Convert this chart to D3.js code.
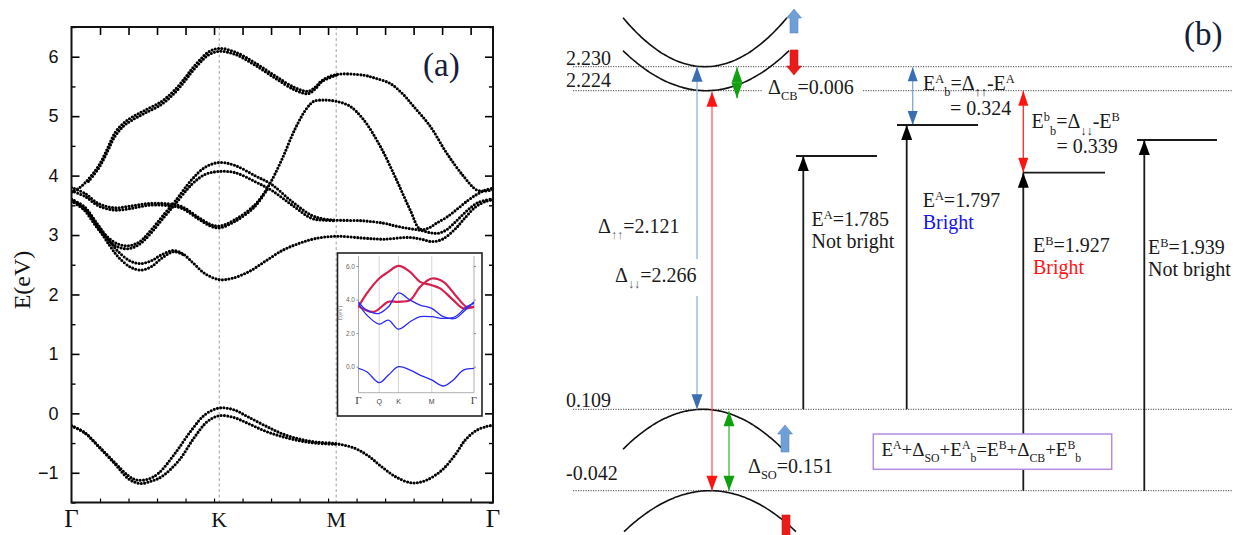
<!DOCTYPE html>
<html><head><meta charset="utf-8">
<script src="https://cdn.jsdelivr.net/npm/d3@7"></script>
<style>body{margin:0;background:#fff}svg{display:block}</style>
</head><body><svg id="c" width="1241" height="535"></svg>
<script>
// ---------------- DATA: panel (a) band structure (k as fraction of path, E in eV) ----------------
const kLabels = ["Γ", "K", "M", "Γ"];
const kPos = [0, 0.3505, 0.628, 1];
const yTickValues = [-1, 0, 1, 2, 3, 4, 5, 6];
const kPathLength = 2.957; // top-axis tick units (ticks every 0.2)

const vbUp = [[0,-0.21],[0.032,-0.33],[0.064,-0.55],[0.103,-0.83],[0.135,-1.05],[0.155,-1.12],[0.18,-1.11],[0.206,-1.01],[0.246,-0.67],[0.285,-0.28],[0.317,-0.02],[0.3505,0.09],[0.385,0.06],[0.419,-0.06],[0.46,-0.21],[0.499,-0.34],[0.54,-0.43],[0.578,-0.48],[0.628,-0.51],[0.673,-0.59],[0.705,-0.72],[0.736,-0.9],[0.77,-1.07],[0.807,-1.17],[0.84,-1.13],[0.878,-0.96],[0.91,-0.7],[0.934,-0.45],[0.96,-0.29],[0.985,-0.22],[1,-0.2]];
const vbDn = [[0,-0.21],[0.032,-0.33],[0.064,-0.56],[0.103,-0.85],[0.135,-1.1],[0.162,-1.18],[0.19,-1.14],[0.215,-1.06],[0.255,-0.79],[0.29,-0.42],[0.322,-0.14],[0.3505,-0.04],[0.385,-0.07],[0.419,-0.17],[0.46,-0.3],[0.499,-0.39],[0.54,-0.46],[0.578,-0.5],[0.628,-0.52]];

const cb1Up = [[0,3.6],[0.03,3.48],[0.06,3.2],[0.09,2.9],[0.111,2.72],[0.14,2.56],[0.165,2.52],[0.19,2.57],[0.214,2.67],[0.243,2.74],[0.265,2.68],[0.29,2.52],[0.317,2.35],[0.3505,2.25],[0.38,2.27],[0.42,2.38],[0.46,2.56],[0.5,2.74],[0.54,2.86],[0.578,2.94],[0.628,2.98],[0.69,2.95],[0.74,2.93],[0.8,2.96],[0.83,2.93],[0.855,2.89],[0.88,2.93],[0.91,3.1],[0.935,3.3],[0.96,3.48],[0.985,3.57],[1,3.59]];
const cb1Dn = [[0,3.57],[0.03,3.45],[0.06,3.15],[0.09,2.83],[0.111,2.63],[0.14,2.46],[0.165,2.41],[0.19,2.47],[0.214,2.61],[0.243,2.72],[0.265,2.67]];

const cb2Up = [[0,3.6],[0.03,3.45],[0.06,3.18],[0.085,2.97],[0.11,2.85],[0.135,2.82],[0.16,2.88],[0.182,3.03],[0.222,3.37],[0.246,3.57],[0.285,3.93],[0.317,4.14],[0.3505,4.22],[0.388,4.17],[0.435,4.0],[0.475,3.85],[0.522,3.57],[0.57,3.33],[0.6,3.27],[0.628,3.25],[0.69,3.24],[0.74,3.2],[0.77,3.15],[0.8,3.11],[0.827,3.08],[0.851,3.04],[0.87,3.03],[0.89,3.09],[0.915,3.25],[0.94,3.42],[0.965,3.55],[1,3.61]];
const cb2Dn = [[0,3.57],[0.03,3.42],[0.06,3.13],[0.085,2.93],[0.11,2.8],[0.135,2.77],[0.16,2.84],[0.182,2.98],[0.222,3.32],[0.246,3.52],[0.285,3.85],[0.317,4.02],[0.3505,4.07],[0.388,4.05],[0.435,3.9],[0.475,3.75],[0.522,3.51],[0.57,3.28],[0.6,3.25],[0.628,3.24]];

const cb3Up = [[0,3.8],[0.032,3.7],[0.064,3.53],[0.103,3.46],[0.143,3.49],[0.182,3.53],[0.222,3.53],[0.261,3.48],[0.301,3.3],[0.33,3.18],[0.3505,3.15],[0.388,3.26],[0.435,3.51],[0.467,3.82],[0.499,4.27],[0.53,4.78],[0.557,5.12],[0.575,5.25],[0.6,5.27],[0.628,5.25],[0.66,5.17],[0.692,4.95],[0.732,4.5],[0.771,3.93],[0.803,3.43],[0.827,3.1],[0.848,3.12],[0.866,3.2],[0.89,3.3],[0.914,3.43],[0.94,3.58],[0.961,3.68],[0.98,3.75],[1,3.79]];
const cb3Dn = [[0,3.74],[0.032,3.65],[0.064,3.49],[0.103,3.42],[0.143,3.45],[0.182,3.5],[0.222,3.5],[0.261,3.45],[0.301,3.27],[0.33,3.15],[0.3505,3.12],[0.388,3.23],[0.435,3.48],[0.467,3.8]];

const cb4Up = [[0,3.72],[0.02,3.8],[0.04,3.94],[0.064,4.16],[0.085,4.45],[0.103,4.72],[0.123,4.88],[0.143,4.98],[0.174,5.1],[0.214,5.25],[0.246,5.45],[0.27,5.65],[0.285,5.79],[0.305,5.95],[0.325,6.08],[0.3505,6.14],[0.388,6.08],[0.435,5.9],[0.483,5.68],[0.53,5.48],[0.562,5.42],[0.58,5.5],[0.594,5.6],[0.628,5.7],[0.692,5.69],[0.72,5.64],[0.756,5.55],[0.785,5.38],[0.811,5.17],[0.851,4.83],[0.89,4.38],[0.93,3.99],[0.961,3.76],[0.98,3.74],[1,3.76]];
const cb4Dn = [[0.04,3.9],[0.064,4.12],[0.085,4.4],[0.103,4.66],[0.123,4.83],[0.143,4.93],[0.174,5.05],[0.214,5.2],[0.246,5.4],[0.27,5.6],[0.285,5.74],[0.305,5.9],[0.325,6.03],[0.3505,6.09],[0.388,6.04],[0.435,5.86],[0.483,5.64],[0.53,5.44],[0.562,5.38],[0.58,5.47],[0.594,5.58],[0.628,5.69]];

// inset (k as fraction of inset path)
const insetKLabels = ["Γ", "Q", "K", "M", "Γ"];
const insetKPos = [0, 0.179, 0.346, 0.634, 1];
const insetYTicks = [0, 2, 4, 6];
const insetRed1 = [[0,3.57],[0.072,4.37],[0.179,5.26],[0.259,5.65],[0.346,6.01],[0.447,5.65],[0.533,5.06],[0.634,4.86],[0.706,4.67],[0.821,3.97],[0.908,3.48],[1,3.57]];
const insetRed2 = [[0,3.6],[0.13,3.27],[0.259,3.87],[0.346,3.87],[0.447,3.97],[0.533,4.76],[0.634,5.26],[0.735,5.06],[0.85,4.17],[0.936,3.57],[1,3.57]];
const insetBlue1 = [[0,3.87],[0.072,3.37],[0.179,3.18],[0.259,3.57],[0.346,4.4],[0.447,3.97],[0.533,3.67],[0.634,3.48],[0.735,2.98],[0.836,2.88],[0.908,3.27],[1,3.87]];
const insetBlue2 = [[0,3.77],[0.072,3.08],[0.179,2.54],[0.259,2.78],[0.346,2.24],[0.447,2.68],[0.533,2.98],[0.634,2.98],[0.735,2.88],[0.836,2.98],[0.936,3.57],[1,3.77]];
const insetBlueV = [[0,-0.1],[0.072,-0.3],[0.179,-0.95],[0.259,-0.5],[0.346,0.0],[0.447,-0.2],[0.533,-0.5],[0.634,-0.79],[0.735,-1.15],[0.821,-0.79],[0.908,-0.2],[1,-0.1]];

// ---------------- DATA: panel (b) energy diagram ----------------
const levelValues = [2.230, 2.224, 0.109, -0.042];
const levelLabels = ["2.230", "2.224", "0.109", "-0.042"];
const excitonSpecies = ["A", "A", "B", "B"];
const excitonEnergies = [1.785, 1.797, 1.927, 1.939];
const excitonFrom = [0.109, 0.109, -0.042, -0.042];
const excitonBright = ["Not bright", "Bright", "Bright", "Not bright"];
const bindingA = 0.324, bindingB = 0.339;
const deltaUpUp = 2.121, deltaDnDn = 2.266, deltaCB = 0.006, deltaSO = 0.151;

// ---------------- DRAW ----------------
const svg = d3.select("#c");
const serif = "'Liberation Serif','Times New Roman',serif";
const sans = "'Liberation Sans',Arial,sans-serif";

// ===== Panel (a) =====
const L = 71.5, R = 493, T = 27, B = 502.5;
const xa = d3.scaleLinear().domain([0, 1]).range([L, R]);
const xk = d3.scaleLinear().domain([0, kPathLength]).range([L, R]);
const ya = d3.scaleLinear().domain([-1.5, 6.5]).range([B, T]);
const ga = svg.append("g");

ga.append("clipPath").attr("id", "clipA").append("rect").attr("x", L).attr("y", T).attr("width", R - L).attr("height", B - T);

// K, M dashed lines
ga.selectAll("line.sym").data(kPos.slice(1, 3)).join("line")
  .attr("x1", d => xa(d)).attr("x2", d => xa(d)).attr("y1", T).attr("y2", B)
  .attr("stroke", "#999").attr("stroke-width", 0.9).attr("stroke-dasharray", "3,2.5");

// bands
const bandLine = d3.line().x(d => xa(d[0])).y(d => ya(d[1])).curve(d3.curveCatmullRom.alpha(0.5));
const bands = [vbUp, vbDn, cb1Up, cb1Dn, cb2Up, cb2Dn, cb3Up, cb3Dn, cb4Up, cb4Dn];
ga.append("g").attr("clip-path", "url(#clipA)").selectAll("path").data(bands).join("path")
  .attr("d", bandLine).attr("fill", "none").attr("stroke", "#000")
  .attr("stroke-width", 3.1).attr("stroke-linecap", "round").attr("stroke-dasharray", "0 3.3");

// axes ticks
const minorY = d3.range(-1.5, 6.51, 0.5).filter(v => Math.abs(v % 1) > 0.1);
const axL = d3.axisLeft(ya).tickValues(yTickValues).tickSize(-8).tickPadding(13).tickFormat(d3.format("d"));
const gl = ga.append("g").attr("transform", `translate(${L},0)`).call(axL);
gl.select(".domain").remove();
gl.selectAll("text").attr("font-family", sans).attr("font-size", 18).attr("fill", "#111");
gl.selectAll("line").attr("stroke-width", 1.6);
ga.append("g").attr("transform", `translate(${L},0)`).call(d3.axisLeft(ya).tickValues(minorY).tickSize(-4).tickFormat(""))
  .call(g => g.select(".domain").remove()).selectAll("line").attr("stroke-width", 1.4);
ga.append("g").attr("transform", `translate(${R},0)`).call(d3.axisRight(ya).tickValues(yTickValues).tickSize(-8).tickFormat(""))
  .call(g => g.select(".domain").remove()).selectAll("line").attr("stroke-width", 1.6);
ga.append("g").attr("transform", `translate(${R},0)`).call(d3.axisRight(ya).tickValues(minorY).tickSize(-4).tickFormat(""))
  .call(g => g.select(".domain").remove()).selectAll("line").attr("stroke-width", 1.4);
const kTicks = d3.range(0.2, kPathLength, 0.2);
ga.append("g").attr("transform", `translate(0,${T})`).call(d3.axisTop(xk).tickValues(kTicks).tickSize(-8).tickFormat(""))
  .call(g => g.select(".domain").remove()).selectAll("line").attr("stroke-width", 1.6);
ga.append("g").attr("transform", `translate(0,${B})`).call(d3.axisBottom(xk).tickValues(kTicks).tickSize(-4).tickFormat(""))
  .call(g => g.select(".domain").remove()).selectAll("line").attr("stroke-width", 1.2);

// frame
ga.append("rect").attr("x", L).attr("y", T).attr("width", R - L).attr("height", B - T)
  .attr("fill", "none").attr("stroke", "#111").attr("stroke-width", 2);

// k labels
ga.selectAll("text.kl").data(kLabels).join("text")
  .attr("x", (d, i) => xa(kPos[i])).attr("y", 527)
  .attr("text-anchor", "middle").attr("font-family", serif)
  .attr("font-size", d => (d === "Γ" ? 25 : 22)).attr("fill", "#111").text(d => d);

// y label
ga.append("text").attr("transform", "translate(30,280) rotate(-90)").attr("text-anchor", "middle")
  .attr("font-family", serif).attr("font-size", 24).attr("fill", "#111").text("E(eV)");

// (a)
ga.append("text").attr("x", 423).attr("y", 76).attr("font-family", serif).attr("font-size", 33)
  .attr("fill", "#14203a").text("(a)");

// ---- inset ----
const iL = 358.5, iR = 474, iT = 256, iB = 392.7;
const xi = d3.scaleLinear().domain([0, 1]).range([iL, iR]);
const yi = d3.scaleLinear().domain([-1.55, 6.6]).range([iB, iT]);
const gi = svg.append("g");
gi.append("rect").attr("x", 337.5).attr("y", 253).attr("width", 144.5).attr("height", 163)
  .attr("fill", "#fff").attr("stroke", "#222").attr("stroke-width", 1.6);
gi.selectAll("line.ig").data(insetKPos.slice(1, 4)).join("line")
  .attr("x1", d => xi(d)).attr("x2", d => xi(d)).attr("y1", iT).attr("y2", iB)
  .attr("stroke", "#ccc").attr("stroke-width", 0.8);
gi.append("line").attr("x1", iL).attr("x2", iL).attr("y1", iT).attr("y2", iB).attr("stroke", "#999").attr("stroke-width", 0.8);
gi.append("line").attr("x1", iR).attr("x2", iR).attr("y1", iT).attr("y2", iB).attr("stroke", "#999").attr("stroke-width", 0.8);
gi.append("line").attr("x1", iL).attr("x2", iR).attr("y1", iB).attr("y2", iB).attr("stroke", "#999").attr("stroke-width", 0.8);
const giax = gi.append("g").attr("transform", `translate(${iL},0)`)
  .call(d3.axisLeft(yi).tickValues(insetYTicks).tickSize(2).tickPadding(1.5).tickFormat(d3.format(".1f")));
giax.select(".domain").remove();
giax.selectAll("line").attr("stroke", "#888");
giax.selectAll("text").attr("font-family", sans).attr("font-size", 6.5).attr("fill", "#666");
gi.append("g").attr("transform", `translate(${iR},0)`)
  .call(d3.axisRight(yi).tickValues(insetYTicks).tickSize(2).tickFormat(""))
  .call(g => g.select(".domain").remove()).selectAll("line").attr("stroke", "#888");
gi.append("text").attr("transform", `translate(342,${yi(3.2)}) rotate(-90)`).attr("text-anchor", "middle")
  .attr("font-family", serif).attr("font-size", 6).attr("fill", "#666").text("E(eV)");
gi.selectAll("text.ik").data(insetKLabels).join("text")
  .attr("x", (d, i) => xi(insetKPos[i])).attr("y", 404).attr("text-anchor", "middle")
  .attr("font-family", d => (d === "Γ" ? serif : sans)).attr("font-size", d => (d === "Γ" ? 11 : 7))
  .attr("fill", "#444").text(d => d);
const insetLine = d3.line().x(d => xi(d[0])).y(d => yi(d[1])).curve(d3.curveCatmullRom.alpha(0.5));
gi.selectAll("path.red").data([insetRed1, insetRed2]).join("path").attr("d", insetLine)
  .attr("fill", "none").attr("stroke", "#d3224e").attr("stroke-width", 2.2);
gi.selectAll("path.blue").data([insetBlue1, insetBlue2, insetBlueV]).join("path").attr("d", insetLine)
  .attr("fill", "none").attr("stroke", "#2b2bf5").attr("stroke-width", 1.3);

// ===== Panel (b) =====
const gb = svg.append("g");
// schematic energy axis (not to scale): stops at every drawn level
const excTops = excitonEnergies.map((e, i) => +(excitonFrom[i] + e).toFixed(3));
const yDomain = [...levelValues, ...excTops].sort((a, b) => a - b);
const yRangeFor = { "-0.042": 490.7, "0.109": 409.3, "1.885": 172.7, "1.894": 156, "1.897": 140, "1.906": 125, "2.224": 90.7, "2.23": 66.7 };
const yb = d3.scaleLinear().domain(yDomain).range(yDomain.map(v => yRangeFor[String(v)]));

// dotted level lines and labels
gb.selectAll("line.lv").data(levelValues).join("line")
  .attr("x1", 573).attr("x2", 1233).attr("y1", d => yb(d)).attr("y2", d => yb(d))
  .attr("stroke", "#444").attr("stroke-width", 1).attr("stroke-dasharray", "1.2,1.3");
const lblDy = [-1.5, -3.5, -2.6, -10.7];
gb.selectAll("text.lv").data(levelLabels).join("text")
  .attr("x", 566).attr("y", (d, i) => yb(levelValues[i]) + lblDy[i])
  .attr("font-family", serif).attr("font-size", 20).attr("fill", "#1a1a1a").text(d => d);

// band parabolas (schematic)
function parab(cx, vy, drop, hw, sign) {
  const pts = d3.range(-hw, hw + 0.1, 2).map(dx => [cx + dx, vy + sign * drop * (dx / hw) * (dx / hw)]);
  return d3.line().curve(d3.curveBasis)(pts);
}
const arcs = [
  parab(705, yb(2.230), 49, 82, -1),
  parab(706, yb(2.224), 40, 83, -1),
  parab(703, yb(0.109), 40, 80, 1),
  parab(710, yb(-0.042), 41, 86, 1)
];
gb.selectAll("path.arc").data(arcs).join("path").attr("d", d => d)
  .attr("fill", "none").attr("stroke", "#111").attr("stroke-width", 1.6);

// block spin arrows
function block(cx, tail, tip, sw, hw, hl) {
  const dir = tip < tail ? -1 : 1;
  const hb = tip - dir * hl;
  return `M${cx - sw / 2},${tail} L${cx - sw / 2},${hb} L${cx - hw / 2},${hb} L${cx},${tip} L${cx + hw / 2},${hb} L${cx + sw / 2},${hb} L${cx + sw / 2},${tail} Z`;
}
const spinArrows = [
  { d: block(794, 33, 9, 8, 15, 9), c: "#6f9fd6" },
  { d: block(794, 50, 75, 8, 15, 9), c: "#ec1b1b" },
  { d: block(785, 452, 425, 8, 15, 9), c: "#6f9fd6" },
  { d: block(786, 515, 545, 8, 15, 9), c: "#ec1b1b" }
];
gb.selectAll("path.spin").data(spinArrows).join("path").attr("d", d => d.d)
  .attr("fill", d => d.c).attr("stroke", d => d3.color(d.c).darker(0.4)).attr("stroke-width", 0.6);

// arrow helper
function head(g, x, tip, dir, w, l, color) {
  g.append("path").attr("d", `M${x},${tip} L${x - w / 2},${tip - dir * l} L${x + w / 2},${tip - dir * l} Z`).attr("fill", color);
}
function vArrow(g, x, yTop, yBot, opts) {
  const segs = opts.gap ? [[yTop, opts.gap[0]], [opts.gap[1], yBot]] : [[yTop, yBot]];
  segs.forEach(s => g.append("line").attr("x1", x).attr("x2", x).attr("y1", s[0]).attr("y2", s[1])
    .attr("stroke", opts.line).attr("stroke-width", opts.lw || 1.3));
  const w = opts.w || 11, l = opts.l || 15;
  if (opts.up) head(g, x, yTop, -1, w, l, opts.head);
  if (opts.down) head(g, x, yBot, 1, w, l, opts.head);
}

// transitions
vArrow(gb, 697, yb(2.230), yb(0.109), { line: "#9dbde2", head: "#3b6db1", up: true, down: true, gap: [259, 296], lw: 1.5 });
vArrow(gb, 712, yb(2.224) + 1, yb(-0.042), { line: "#ff4a4a", head: "#ff1414", up: true, down: true, lw: 1.2 });
vArrow(gb, 737, yb(2.230) + 0.5, yb(2.224) + 7.5, { line: "#22aa22", head: "#10a010", up: true, down: true, l: 15.5, w: 11 });
vArrow(gb, 729, yb(0.109) + 2, yb(-0.042), { line: "#2bb52b", head: "#0ea00e", up: true, down: true, lw: 1.2 });
vArrow(gb, 912.7, yb(2.230) + 0.5, yb(2.230 - bindingA), { line: "#7ea6d6", head: "#3b6db1", up: true, down: true, l: 14, w: 10 });
vArrow(gb, 1023.3, yb(2.224), yb(2.224 - bindingB), { line: "#ff2a2a", head: "#ff1414", up: true, down: true, l: 15, w: 10 });

// exciton levels
const excX = [803.3, 906.7, 1023.3, 1144.3];
const excBar = [[796, 877], [897, 978], [1023, 1105], [1137, 1217]];
excitonEnergies.forEach((e, i) => {
  const top = yb(excTops[i]), bot = yb(excitonFrom[i]);
  vArrow(gb, excX[i], top, bot, { line: "#1a1a1a", head: "#000", up: true, lw: 1.8, w: 11, l: 15 });
  gb.append("line").attr("x1", excBar[i][0]).attr("x2", excBar[i][1]).attr("y1", top).attr("y2", top)
    .attr("stroke", "#1a1a1a").attr("stroke-width", 1.8);
});

// rich text helper
function rich(g, x, y, parts, size, color) {
  const t = g.append("text").attr("x", x).attr("y", y).attr("font-family", serif)
    .attr("font-size", size).attr("fill", color || "#1a1a1a");
  let cur = 0;
  parts.forEach(p => {
    const target = p.sup ? -size * 0.36 : p.sub ? size * 0.32 : 0;
    const ts = t.append("tspan").attr("dy", target - cur).text(p.t);
    if (p.sup || p.sub) ts.attr("font-size", size * 0.62);
    if (p.c) ts.attr("fill", p.c);
    cur = target;
  });
  return t;
}

// Δ labels
gb.append("rect").attr("x", 762).attr("y", 76).attr("width", 100).attr("height", 30).attr("fill", "#fff");
rich(gb, 768, 94, [{ t: "Δ" }, { t: "CB", sub: true }, { t: "=" + deltaCB.toFixed(3) }], 20);
rich(gb, 598, 232.5, [{ t: "Δ" }, { t: "↑↑", sub: true, c: "#777" }, { t: "=" + deltaUpUp.toFixed(3) }], 20);
rich(gb, 615, 281.5, [{ t: "Δ" }, { t: "↓↓", sub: true, c: "#555" }, { t: "=" + deltaDnDn.toFixed(3) }], 20);
rich(gb, 748, 472.5, [{ t: "Δ" }, { t: "SO", sub: true }, { t: "=" + deltaSO.toFixed(3) }], 20);

// binding energy labels
rich(gb, 923, 90, [{ t: "E" }, { t: "A", sup: true }, { t: "b", sub: true }, { t: "=Δ" }, { t: "↑↑", sub: true }, { t: "-E" }, { t: "A", sup: true }], 20);
rich(gb, 950, 115, [{ t: "= " + bindingA.toFixed(3) }], 20);
rich(gb, 1031.5, 128.3, [{ t: "E" }, { t: "b", sup: true }, { t: "b", sub: true }, { t: "=Δ" }, { t: "↓↓", sub: true }, { t: "-E" }, { t: "B", sup: true }], 20);
rich(gb, 1056.5, 153.3, [{ t: "= " + bindingB.toFixed(3) }], 20);

// exciton labels
const excLblX = [811.5, 922.7, 1033, 1148];
const excLblY = [226, 206.7, 251.7, 254];
const brightColor = ["#1a1a1a", "#1414f0", "#ff1414", "#1a1a1a"];
excitonEnergies.forEach((e, i) => {
  rich(gb, excLblX[i], excLblY[i], [{ t: "E" }, { t: excitonSpecies[i], sup: true }, { t: "=" + e.toFixed(3) }], 20);
  gb.append("text").attr("x", excLblX[i]).attr("y", excLblY[i] + 22).attr("font-family", serif)
    .attr("font-size", 20).attr("fill", brightColor[i]).text(excitonBright[i]);
});

// relation box
gb.append("rect").attr("x", 873.3).attr("y", 434).attr("width", 238.4).attr("height", 35.3)
  .attr("fill", "#fff").attr("stroke", "#b58ce0").attr("stroke-width", 1.5);
rich(gb, 881.5, 456, [{ t: "E" }, { t: "A", sup: true }, { t: "+Δ" }, { t: "SO", sub: true }, { t: "+E" }, { t: "A", sup: true }, { t: "b", sub: true },
  { t: "=E" }, { t: "B", sup: true }, { t: "+Δ" }, { t: "CB", sub: true }, { t: "+E" }, { t: "B", sup: true }, { t: "b", sub: true }], 19);

// (b)
gb.append("text").attr("x", 1184).attr("y", 45).attr("font-family", serif).attr("font-size", 33)
  .attr("fill", "#14203a").text("(b)");
</script></body></html>
